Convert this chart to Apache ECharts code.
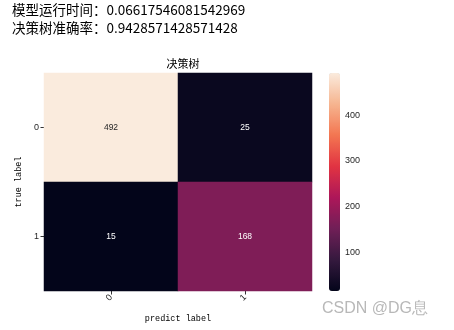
<!DOCTYPE html>
<html>
<head>
<meta charset="utf-8">
<script src="https://cdn.jsdelivr.net/npm/echarts@6/dist/echarts.min.js"></script>
<style>
html,body{margin:0;padding:0;background:#fff;}
#c{width:454px;height:330px;}
</style>
</head>
<body>
<div id="c"></div>
<script>
const xCategories = ['0', '1'];
const yCategories = ['0', '1'];
// [xIndex, yIndex, value]
const cells = [[0, 0, 492], [1, 0, 25], [0, 1, 15], [1, 1, 168]];
const colorbarTicks = [100, 200, 300, 400];
const valueMin = 15, valueMax = 492;
const headerLines = ['模型运行时间：0.06617546081542969', '决策树准确率：0.9428571428571428'];
const chartTitle = '决策树';
const xName = 'predict label', yName = 'true label';
const watermark = 'CSDN @DG息';

const rocket = ['#03051a', '#35193e', '#701f57', '#ad1759', '#e13342', '#f37651', '#f6b48f', '#faebdd'];

const chart = echarts.init(document.getElementById('c'));
const labelFont = 'Liberation Sans, Arial, sans-serif';
const seriesData = cells.map(c => ({
  value: c,
  label: {color: c[2] > (valueMin + valueMax) / 2 ? '#262626' : '#ffffff'}
}));
chart.setOption({
  animation: false,
  backgroundColor: '#fff',
  title: {
    text: chartTitle, left: 178, top: 53, textAlign: 'center',
    textStyle: {fontSize: 11, fontWeight: 'normal', color: '#000', fontFamily: 'Noto Sans CJK SC'}
  },
  graphic: [
    {type: 'text', left: 12, top: 3, style: {text: headerLines[0], font: '13.5px "Noto Sans CJK SC"', fill: '#000'}},
    {type: 'text', left: 12, top: 21, style: {text: headerLines[1], font: '13.5px "Noto Sans CJK SC"', fill: '#000'}},
    {type: 'text', left: 322, top: 301, style: {text: watermark, font: '16px "Liberation Sans", Arial, sans-serif', fill: '#b8b8b8'}}
  ],
  grid: [
    {left: 44, top: 73, width: 268, height: 218},
    {left: 329, top: 73, width: 11, height: 218}
  ],
  xAxis: [
    {
      type: 'category', data: xCategories, gridIndex: 0, position: 'bottom',
      name: xName, nameLocation: 'middle', nameGap: 23,
      nameTextStyle: {fontFamily: 'Liberation Mono, monospace', fontSize: 8.5, color: '#000'},
      axisLine: {show: false}, splitLine: {show: false},
      axisTick: {show: true, alignWithLabel: true, length: 3.5, lineStyle: {color: '#333', width: 1}},
      axisLabel: {rotate: 45, fontSize: 9, color: '#262626', fontFamily: labelFont, margin: 5}
    },
    {type: 'value', gridIndex: 1, show: false, min: 0, max: 1}
  ],
  yAxis: [
    {
      type: 'category', data: yCategories, gridIndex: 0, inverse: true,
      name: yName, nameLocation: 'middle', nameGap: 19, nameRotate: 90,
      nameTextStyle: {fontFamily: 'Liberation Mono, monospace', fontSize: 8.5, color: '#000'},
      axisLine: {show: false}, splitLine: {show: false},
      axisTick: {show: true, alignWithLabel: true, length: 3.5, lineStyle: {color: '#333', width: 1}},
      axisLabel: {fontSize: 9, color: '#262626', fontFamily: labelFont, margin: 5}
    },
    {
      type: 'value', gridIndex: 1, position: 'right', min: valueMin, max: valueMax,
      axisLine: {show: false}, splitLine: {show: false},
      axisTick: {show: true, length: 3.5, inside: false, customValues: colorbarTicks, lineStyle: {color: '#333'}},
      axisLabel: {show: true, customValues: colorbarTicks, fontSize: 9, color: '#262626', fontFamily: labelFont, margin: 5}
    }
  ],
  visualMap: {
    type: 'continuous', min: valueMin, max: valueMax, seriesIndex: 0, dimension: 2,
    calculable: false, orient: 'vertical', left: 329, top: 73,
    itemWidth: 11, itemHeight: 218, padding: 0, text: null, showLabel: false,
    inRange: {color: rocket}
  },
  series: [{
    type: 'heatmap', xAxisIndex: 0, yAxisIndex: 0, data: seriesData,
    label: {
      show: true, fontSize: 8.5, fontFamily: labelFont,
      formatter: p => String(p.value[2])
    },
    itemStyle: {borderWidth: 0},
    emphasis: {disabled: true}
  }]
});
</script>
</body>
</html>
